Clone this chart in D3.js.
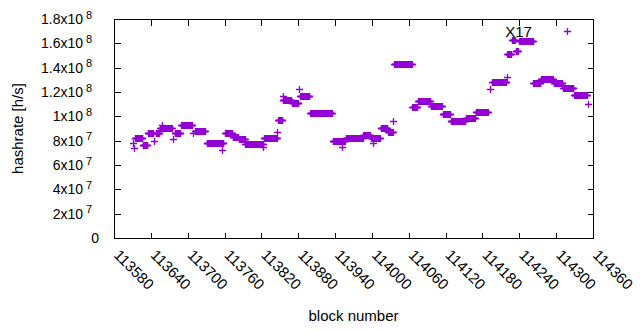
<!DOCTYPE html>
<html lang="en">
<head>
<meta charset="UTF-8">
<title>hashrate per block</title>
<script src="https://d3js.org/d3.v7.min.js"></script>
<style>
  body { margin: 0; background: #fff; }
  text { font-family: "Liberation Sans", Arial, sans-serif; fill: #000; }
</style>
</head>
<body>
<script>
// runs of consecutive blocks that share one hashrate reading
var runStart = [113614, 113627, 113635, 113648, 113655, 113679, 113689, 113712, 113731, 113737,
                113761, 113773, 113783, 113794, 113824, 113847, 113855, 113870, 113883, 113899,
                113936, 113957, 113986, 113998, 114014, 114026, 114036, 114066, 114075, 114096,
                114115, 114128, 114153, 114169, 114196, 114220, 114228, 114234, 114240, 114263,
                114275, 114296, 114311, 114329];
var runEnd   = [113626, 113634, 113644, 113654, 113674, 113688, 113707, 113728, 113736, 113758,
                113772, 113782, 113793, 113822, 113845, 113854, 113869, 113880, 113898, 113935,
                113956, 113985, 113997, 114013, 114025, 114034, 114065, 114074, 114095, 114114,
                114127, 114152, 114168, 114189, 114219, 114227, 114233, 114238, 114262, 114274,
                114295, 114310, 114328, 114350];
var runRate  = [82.3e6, 76.8e6, 85.9e6, 86.4e6, 90.4e6, 86.7e6, 92.7e6, 88.3e6, 78.2e6, 78.4e6,
                85.9e6, 83.4e6, 81.3e6, 77.6e6, 82.6e6, 96.6e6, 113.1e6, 110.6e6, 116.4e6, 102.4e6,
                79.5e6, 82.3e6, 85.0e6, 82.6e6, 90.8e6, 87.5e6, 142.8e6, 107.3e6, 112.5e6, 108.4e6,
                101.6e6, 96.0e6, 99.0e6, 103.2e6, 128.0e6, 151.0e6, 162.7e6, 153.6e6, 161.8e6, 127.2e6,
                130.5e6, 127.2e6, 123.0e6, 117.2e6];

// stray single blocks
var oddBlock = [113611, 113613, 113645, 113658, 113676, 113709, 113756, 113823, 113846, 113855,
                113881, 113951, 114002, 114035, 114193, 114220, 114318, 114352];
var oddRate  = [78.4e6, 74.3e6, 79.5e6, 92.5e6, 81.0e6, 86.7e6, 72.7e6, 75.1e6, 87.5e6, 116.4e6,
                122.2e6, 75.1e6, 78.4e6, 96.0e6, 122.2e6, 132.0e6, 170.0e6, 109.8e6];

var xTicks = [113580, 113640, 113700, 113760, 113820, 113880, 113940, 114000, 114060,
              114120, 114180, 114240, 114300, 114360];
var yTicks = [0, 2e7, 4e7, 6e7, 8e7, 1e8, 1.2e8, 1.4e8, 1.6e8, 1.8e8];
var yTickBase = ["0", "2x10", "4x10", "6x10", "8x10", "1x10", "1.2x10", "1.4x10", "1.6x10", "1.8x10"];
var yTickExp  = ["", "7", "7", "7", "7", "8", "8", "8", "8", "8"];

var purple = "#9400d3";
var W = 640, H = 330;
var margin = {top: 19, right: 47, bottom: 92, left: 114};

var svg = d3.select("body").append("svg")
    .attr("width", W).attr("height", H);

var x = d3.scaleLinear().domain([113580, 114360]).range([margin.left, W - margin.right]);
var y = d3.scaleLinear().domain([0, 1.8e8]).range([H - margin.bottom, margin.top]);

var px = function(v) { return Math.round(x(v)) + 0.5; };
var py = function(v) { return Math.round(y(v)) + 0.5; };

var x0 = px(113580), x1 = px(114360), y0 = py(0), y1 = py(1.8e8);

// points: one per block
var points = [];
runStart.forEach(function(s, i) {
  for (var b = s; b <= runEnd[i]; b++) points.push([b, runRate[i]]);
});
oddBlock.forEach(function(b, i) { points.push([b, oddRate[i]]); });

// '+' markers
svg.append("g").selectAll("path")
  .data(points)
  .enter().append("path")
  .attr("transform", function(d) { return "translate(" + px(d[0]) + "," + py(d[1]) + ")"; })
  .attr("d", "M-3.6,0H3.6M0,-3.6V3.6")
  .attr("stroke", purple)
  .attr("stroke-width", 1.3)
  .attr("fill", "none");

// ticks, mirrored on all four sides like gnuplot
var tk = svg.append("g").attr("stroke", "#000").attr("stroke-width", 1).attr("shape-rendering", "crispEdges");
yTicks.forEach(function(t) {
  tk.append("line").attr("x1", x0).attr("x2", x0 + 6).attr("y1", py(t)).attr("y2", py(t));
  tk.append("line").attr("x1", x1).attr("x2", x1 - 6).attr("y1", py(t)).attr("y2", py(t));
});
xTicks.forEach(function(t) {
  tk.append("line").attr("x1", px(t)).attr("x2", px(t)).attr("y1", y0).attr("y2", y0 - 6);
  tk.append("line").attr("x1", px(t)).attr("x2", px(t)).attr("y1", y1).attr("y2", y1 + 6);
});

svg.append("rect")
  .attr("x", x0).attr("y", y1).attr("width", x1 - x0).attr("height", y0 - y1)
  .attr("fill", "none").attr("stroke", "#000").attr("shape-rendering", "crispEdges");

// y tick labels with superscript exponent
yTicks.forEach(function(t, i) {
  var ty = y(t);
  if (yTickExp[i] === "") {
    svg.append("text").attr("x", 99).attr("y", ty + 5).attr("text-anchor", "end")
      .style("font-size", "14px").text(yTickBase[i]);
    return;
  }
  svg.append("text").attr("x", 83).attr("y", ty + 5).attr("text-anchor", "end")
    .style("font-size", "14px").text(yTickBase[i]);
  svg.append("text").attr("x", 86).attr("y", ty - 0.5).attr("text-anchor", "start")
    .style("font-size", "11px").text(yTickExp[i]);
});

// x tick labels, slanted
xTicks.forEach(function(t) {
  svg.append("text")
    .attr("transform", "translate(" + (x(t) - 1) + "," + (y(0) + 18) + ") rotate(45)")
    .attr("text-anchor", "start")
    .style("font-size", "15px")
    .text(t);
});

svg.append("text")
  .attr("x", (margin.left + W - margin.right) / 2).attr("y", 321)
  .attr("text-anchor", "middle").style("font-size", "15px")
  .text("block number");

svg.append("text")
  .attr("transform", "translate(23," + ((margin.top + H - margin.bottom) / 2) + ") rotate(-90)")
  .attr("text-anchor", "middle").style("font-size", "15px")
  .text("hashrate [h/s]");

svg.append("text")
  .attr("x", x(114222) - 3).attr("y", 37)
  .style("font-size", "15px")
  .text("X17");
</script>
</body>
</html>
